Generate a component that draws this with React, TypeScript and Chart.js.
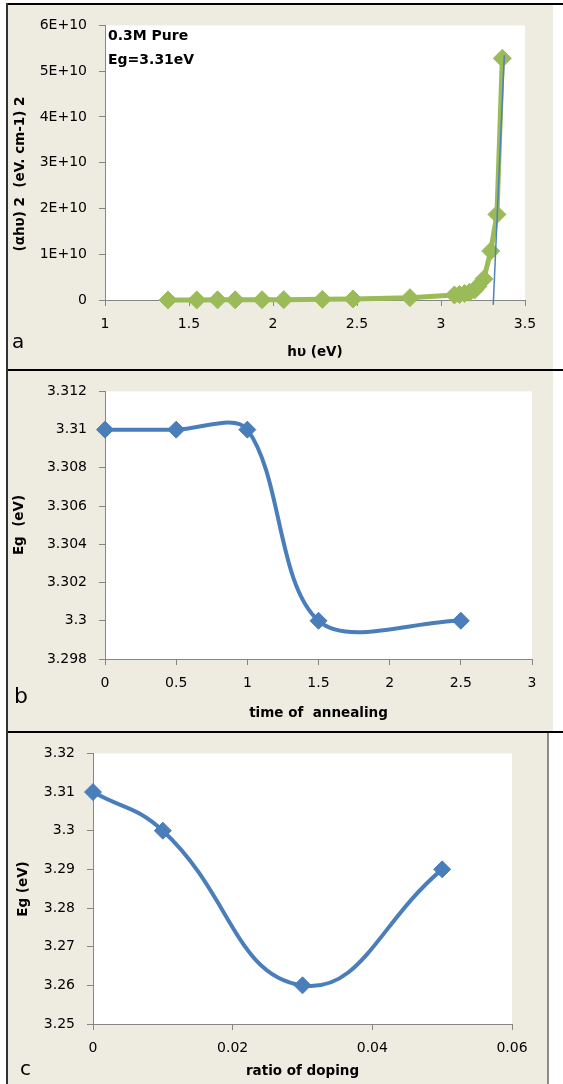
import React, { useEffect, useRef } from 'react';
import { Chart, registerables } from 'chart.js';

Chart.register(...registerables);

// ---------- data ----------
// Panel a: (αhυ)^2 versus photon energy
const photonEnergy = [1.375, 1.546, 1.67, 1.775, 1.935, 2.064, 2.294, 2.476, 2.815, 3.08, 3.11, 3.14, 3.17, 3.2, 3.22, 3.255, 3.296, 3.333, 3.365];
const absorptionSq = [1e7, 2e7, 3e7, 4e7, 6e7, 8e7, 1.4e8, 2.2e8, 5e8, 1.1e9, 1.2e9, 1.4e9, 1.7e9, 2.2e9, 3.0e9, 4.6e9, 1.07e10, 1.87e10, 5.28e10];
const tangentEnergy = [3.311, 3.377];
const tangentValue = [-1.06e9, 5.35e10];
const xTicksA = ['1', '1.5', '2', '2.5', '3', '3.5'];
const yTicksA = ['0', '1E+10', '2E+10', '3E+10', '4E+10', '5E+10', '6E+10'];

// Panel b: Eg versus time of annealing
const annealTime = [0, 0.5, 1, 1.5, 2.5];
const annealEg = [3.31, 3.31, 3.31, 3.3, 3.3];
const xTicksB = ['0', '0.5', '1', '1.5', '2', '2.5', '3'];
const yTicksB = ['3.298', '3.3', '3.302', '3.304', '3.306', '3.308', '3.31', '3.312'];

// Panel c: Eg versus ratio of doping
const dopingRatio = [0, 0.01, 0.03, 0.05];
const dopingEg = [3.31, 3.3, 3.26, 3.29];
const xTicksC = ['0', '0.02', '0.04', '0.06'];
const yTicksC = ['3.25', '3.26', '3.27', '3.28', '3.29', '3.3', '3.31', '3.32'];

// ---------- styles ----------
const FONT = "'DejaVu Sans', sans-serif";
const AXIS = '#868686';
const BEIGE = '#EEECE1';
const GREEN = '#9BBB59';
const BLUE = '#4A7EBB';
const TANGENT = '#4F81BD';

type TextItem = {
  text: string;
  x: number | 'center';
  y: number;
  font: string;
  rotate?: boolean;
  align?: CanvasTextAlign;
  baseline?: CanvasTextBaseline;
};

function decor(texts: TextItem[]) {
  return {
    id: 'decor',
    beforeDraw(chart: any) {
      const { ctx, chartArea } = chart;
      ctx.save();
      ctx.fillStyle = '#ffffff';
      ctx.fillRect(chartArea.left, chartArea.top, chartArea.right - chartArea.left, chartArea.bottom - chartArea.top);
      ctx.restore();
    },
    afterDraw(chart: any) {
      const { ctx, chartArea } = chart;
      ctx.save();
      ctx.fillStyle = '#000000';
      for (const t of texts) {
        const x = t.x === 'center' ? (chartArea.left + chartArea.right) / 2 : t.x;
        ctx.font = t.font;
        ctx.textAlign = t.align ?? 'center';
        ctx.textBaseline = t.baseline ?? 'middle';
        if (t.rotate) {
          ctx.save();
          ctx.translate(x, t.y);
          ctx.rotate(-Math.PI / 2);
          ctx.fillText(t.text, 0, 0);
          ctx.restore();
        } else {
          ctx.fillText(t.text, x, t.y);
        }
      }
      ctx.restore();
    },
  };
}

function axis(min: number, max: number, step: number, labels: string[], size: number, horizontal: boolean, pad: number) {
  return {
    type: 'linear',
    min,
    max,
    ticks: {
      stepSize: step,
      autoSkip: false,
      maxRotation: 0,
      padding: pad,
      color: '#000000',
      font: { family: FONT, size: 14 },
      callback: (_v: any, i: number) => labels[i] ?? '',
    },
    grid: { drawOnChartArea: false, drawTicks: true, tickLength: 6, color: AXIS, lineWidth: 1 },
    border: { display: true, color: AXIS, width: 1 },
    afterFit: (s: any) => {
      if (horizontal) s.height = size;
      else s.width = size;
    },
  };
}

function pts(xs: number[], ys: number[]) {
  return xs.map((x, i) => ({ x, y: ys[i] }));
}

function baseOptions(padTop: number, padRight: number, scales: any) {
  return {
    responsive: false,
    animation: false,
    devicePixelRatio: 1,
    events: [],
    layout: { padding: { left: 0, top: padTop, right: padRight, bottom: 0 } },
    plugins: { legend: { display: false }, tooltip: { enabled: false } },
    scales,
  };
}

const BOLD = `bold 13.5px ${FONT}`;

function configA(): any {
  return {
    type: 'line',
    data: {
      datasets: [
        {
          label: 'tangent',
          data: pts(tangentEnergy, tangentValue),
          borderColor: TANGENT,
          borderWidth: 1.5,
          pointRadius: 0,
          tension: 0,
          order: 0,
          clip: false,
        },
        {
          label: '0.3M Pure',
          data: pts(photonEnergy, absorptionSq),
          borderColor: GREEN,
          backgroundColor: GREEN,
          borderWidth: 5,
          borderJoinStyle: 'round',
          pointStyle: 'rectRot',
          pointRadius: 9,
          pointBackgroundColor: GREEN,
          pointBorderColor: GREEN,
          pointBorderWidth: 1,
          tension: 0,
          order: 1,
          clip: false,
        },
      ],
    },
    options: baseOptions(13, 28, {
      x: axis(1, 3.5, 0.5, xTicksA, 69, true, 10),
      y: axis(0, 6e10, 1e10, yTicksA, 98, false, 12),
    }),
    plugins: [
      decor([
        { text: '0.3M Pure', x: 101, y: 31, font: `bold 14px ${FONT}`, align: 'left' },
        { text: 'Eg=3.31eV', x: 101, y: 55, font: `bold 14px ${FONT}`, align: 'left' },
        { text: 'hυ (eV)', x: 'center', y: 347, font: BOLD },
        { text: '(αhυ) 2  (eV. cm-1) 2', x: 13, y: 169, font: BOLD, rotate: true },
        { text: 'a', x: 5, y: 343, font: `20px ${FONT}`, align: 'left', baseline: 'alphabetic' },
      ]),
    ],
  };
}

function configB(): any {
  return {
    type: 'line',
    data: {
      datasets: [
        {
          label: 'Eg',
          data: pts(annealTime, annealEg),
          borderColor: BLUE,
          backgroundColor: BLUE,
          borderWidth: 4,
          pointStyle: 'rectRot',
          pointRadius: 8.5,
          pointBackgroundColor: BLUE,
          pointBorderColor: BLUE,
          pointBorderWidth: 1,
          tension: 0.33,
          clip: false,
        },
      ],
    },
    options: baseOptions(17, 21, {
      x: axis(0, 3, 0.5, xTicksB, 72, true, 10),
      y: axis(3.298, 3.312, 0.002, yTicksB, 98, false, 12),
    }),
    plugins: [
      decor([
        { text: 'time of  annealing', x: 'center', y: 342, font: BOLD },
        { text: 'Eg  (eV)', x: 12, y: 154, font: BOLD, rotate: true },
        { text: 'b', x: 7, y: 332, font: `22px ${FONT}`, align: 'left', baseline: 'alphabetic' },
      ]),
    ],
  };
}

function configC(): any {
  return {
    type: 'line',
    data: {
      datasets: [
        {
          label: 'Eg',
          data: pts(dopingRatio, dopingEg),
          borderColor: BLUE,
          backgroundColor: BLUE,
          borderWidth: 4,
          pointStyle: 'rectRot',
          pointRadius: 8.5,
          pointBackgroundColor: BLUE,
          pointBorderColor: BLUE,
          pointBorderWidth: 1,
          tension: 0.45,
          clip: false,
        },
      ],
    },
    options: baseOptions(17, 35, {
      x: axis(0, 0.06, 0.02, xTicksC, 60, true, 10),
      y: axis(3.25, 3.32, 0.01, yTicksC, 86, false, 12),
    }),
    plugins: [
      decor([
        { text: 'ratio of doping', x: 'center', y: 338, font: BOLD },
        { text: 'Eg (eV)', x: 16, y: 156, font: BOLD, rotate: true },
        { text: 'c', x: 13, y: 342, font: `20px ${FONT}`, align: 'left', baseline: 'alphabetic' },
      ]),
    ],
  };
}

function Panel(props: { left: number; top: number; width: number; height: number; make: () => any }) {
  const ref = useRef<HTMLCanvasElement | null>(null);
  useEffect(() => {
    if (!ref.current) return;
    const chart = new Chart(ref.current, props.make());
    return () => chart.destroy();
  }, []);
  return (
    <div
      style={{
        position: 'absolute',
        left: props.left,
        top: props.top,
        width: props.width,
        height: props.height,
        background: BEIGE,
      }}
    >
      <canvas ref={ref} width={props.width} height={props.height} style={{ display: 'block', width: props.width, height: props.height }} />
    </div>
  );
}

function Line(props: { left: number; top: number; width: number; height: number; color: string }) {
  return (
    <div
      style={{
        position: 'absolute',
        left: props.left,
        top: props.top,
        width: props.width,
        height: props.height,
        background: props.color,
      }}
    />
  );
}

export default function App() {
  return (
    <div style={{ position: 'absolute', left: 0, top: 0, width: 563, height: 1084, background: '#ffffff', overflow: 'hidden' }}>
      <Panel left={7} top={5} width={546} height={364} make={configA} />
      <Panel left={7} top={371} width={546} height={360} make={configB} />
      <Panel left={7} top={733} width={540} height={351} make={configC} />
      <Line left={7} top={3} width={556} height={2} color="#000000" />
      <Line left={7} top={369} width={556} height={2} color="#000000" />
      <Line left={7} top={731} width={556} height={2} color="#000000" />
      <Line left={6} top={3} width={1.5} height={1081} color="#333333" />
      <Line left={547} top={733} width={2} height={351} color="#8a8a8a" />
    </div>
  );
}
